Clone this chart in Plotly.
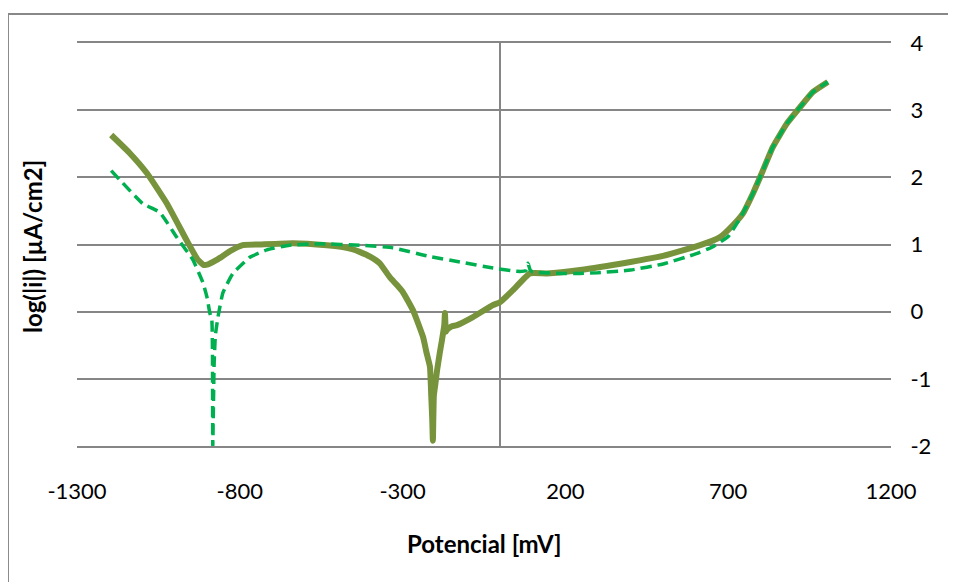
import plotly.graph_objects as go

# Solid series (olive)
solid_x = [-1195, -1140, -1085, -1024, -963, -930, -913, -900, -871, -830, -791, -740, -637, -533,
           -480, -455, -432, -400, -370, -339, -318, -299, -268, -237, -227, -216, -212, -209, -207,
           -204, -200, -194, -186, -179, -172, -170, -167, -164, -150, -133, -84, -22, -1, 39, 91,
           143, 245, 400, 500, 614, 675, 715, 745, 776, 803, 837, 880, 920, 960, 1006]
solid_y = [2.63, 2.37, 2.06, 1.61, 1.06, 0.78, 0.70, 0.70, 0.77, 0.90, 0.99, 1.00, 1.02, 0.99,
           0.96, 0.93, 0.89, 0.82, 0.72, 0.51, 0.40, 0.29, 0.02, -0.38, -0.60, -0.82, -1.25, -1.60, -1.92,
           -1.25, -1.10, -0.87, -0.62, -0.42, -0.20, -0.02, -0.30, -0.27, -0.22, -0.20, -0.08, 0.10, 0.14, 0.32, 0.57,
           0.57, 0.62, 0.74, 0.83, 0.99, 1.11, 1.29, 1.46, 1.76, 2.06, 2.45, 2.80, 3.04, 3.27, 3.42]

# Dashed series (green)
dash_x = [-1195, -1098, -1046, -994, -944, -913, -901, -892, -886, -884, -883, -879, -875, -867,
          -852, -821, -769, -717, -647, -550, -432, -330, -225, -124, -22, 51, 78, 85, 92, 100,
          183, 245, 300, 400, 500, 600, 650, 700, 740, 776, 803, 837, 880, 920, 960, 1006]
dash_y = [2.10, 1.61, 1.48, 1.11, 0.77, 0.43, 0.22, -0.02, -0.12, -0.57, -2.00, -0.80, -0.35, -0.08,
          0.28, 0.57, 0.81, 0.92, 0.99, 1.01, 0.99, 0.95, 0.83, 0.74, 0.65, 0.60, 0.61, 0.72, 0.62, 0.59,
          0.57, 0.57, 0.58, 0.62, 0.71, 0.86, 0.96, 1.12, 1.42, 1.76, 2.06, 2.45, 2.80, 3.04, 3.27, 3.42]

x_range = [-1300, 1200]
y_range = [-2, 4]
x_ticks = [-1300, -800, -300, 200, 700, 1200]
y_ticks = [-2, -1, 0, 1, 2, 3, 4]

FONT = "Lato, Calibri, sans-serif"
GRID = "#868686"

fig = go.Figure()
fig.add_trace(go.Scatter(x=solid_x, y=solid_y, mode="lines",
                         line=dict(color="#77933C", width=6, shape="spline", smoothing=0.4),
                         showlegend=False))
fig.add_trace(go.Scatter(x=dash_x, y=dash_y, mode="lines",
                         line=dict(color="#00B050", width=3.5, dash="11px,6px",
                                   shape="spline", smoothing=0.4),
                         showlegend=False))

fig.update_layout(
    width=956, height=582,
    margin=dict(l=69, r=73, t=35, b=144),
    paper_bgcolor="white", plot_bgcolor="white",
    font=dict(family=FONT, size=22, color="black"),
    xaxis=dict(range=x_range, tickvals=x_ticks, ticktext=[str(v) for v in x_ticks],
               showgrid=False, zeroline=True, zerolinecolor=GRID, zerolinewidth=1.5,
               showline=True, mirror=True, linecolor=GRID, linewidth=1.5,
               ticks="outside", ticklen=25, tickcolor="rgba(0,0,0,0)",
               tickfont=dict(family=FONT, size=22)),
    yaxis=dict(range=y_range, tickvals=y_ticks, ticktext=[str(v) for v in y_ticks],
               side="right", showgrid=True, gridcolor=GRID, gridwidth=1.5,
               zeroline=False, showline=False, ticks="outside", ticklen=14,
               tickcolor="rgba(0,0,0,0)", tickfont=dict(family=FONT, size=22)),
    annotations=[
        dict(text="<b>Potencial [mV]</b>", xref="paper", yref="paper", x=0.5, y=-0.241,
             xanchor="center", yanchor="middle", showarrow=False,
             font=dict(family=FONT, size=24)),
        dict(text="<b>log(|i|) [µA/cm2]</b>", xref="paper", yref="paper", x=-0.054, y=0.494,
             xanchor="center", yanchor="middle", showarrow=False, textangle=-90,
             font=dict(family=FONT, size=24)),
    ],
    shapes=[
        dict(type="line", xref="paper", yref="paper", x0=-0.0848, x1=1.2, y0=1.072, y1=1.072,
             line=dict(color="#888888", width=2)),
        dict(type="line", xref="paper", yref="paper", x0=-0.0848, x1=-0.0848, y0=1.072, y1=-0.5,
             line=dict(color="#888888", width=2)),
    ],
)

fig.write_html("out.html")
